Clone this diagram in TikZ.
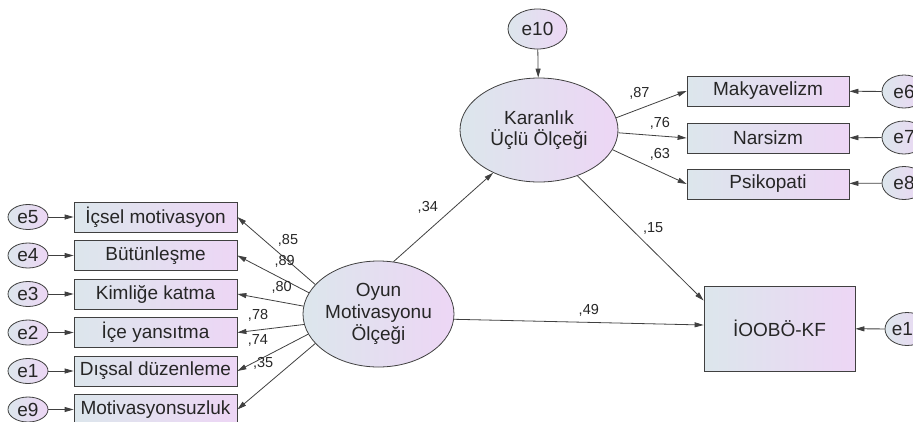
\documentclass[tikz,border=0pt]{standalone}
\usepackage{fontspec}
\setmainfont{Liberation Sans}
\usepackage{tikz}
\usetikzlibrary{positioning, arrows.meta, shapes.geometric}
\definecolor{gradL}{RGB}{220,230,236}
\definecolor{gradR}{RGB}{237,214,245}
\tikzset{
->, % every connector is directed
>={Triangle[length=9pt,width=5pt]}, % thin filled heads
every edge/.append style={draw=black!75, line width=0.8pt}, % connector lines
latent/.style={ellipse, draw=black!75, line width=0.8pt, left color=gradL, right color=gradR, inner sep=0pt, align=center, text=black!85, font=\fontsize{19}{21.7}\selectfont}, % factors
observed/.style={rectangle, draw=black!75, line width=0.8pt, left color=gradL, right color=gradR, inner sep=0pt, minimum width=163pt, minimum height=30pt, text=black!85, font=\fontsize{19}{22}\selectfont}, % measured scores
error/.style={ellipse, draw=black!75, line width=0.8pt, left color=gradL, right color=gradR, inner sep=0pt, text=black!85, font=\fontsize{19}{22}\selectfont}, % residuals
coef/.style={inner sep=1pt, text=black!85, font=\fontsize{14.5}{16}\selectfont}, % loadings
}

\begin{document}
\begin{tikzpicture}[x=1pt, y=-1pt]
\useasboundingbox (0,0) rectangle (913,421);
% latent variables
\node[latent, minimum width=151pt, minimum height=106pt] (oyun) at (378.5,314) {Oyun\\Motivasyonu\\Ölçeği};
\node[latent, minimum width=158pt, minimum height=104pt] (karanlik) at (539,130) {Karanlık\\Üçlü Ölçeği};
\node[observed, minimum width=151pt, minimum height=85pt] (iob) at (779.5,328.5) {İOOBÖ-KF};
% left indicators
\node[observed] (ic) at (155.5,217) {İçsel motivasyon};
\node[observed] (but) at (155.5,255.5) {Bütünleşme};
\node[observed] (kim) at (155.5,294) {Kimliğe katma};
\node[observed] (ice) at (155.5,332.5) {İçe yansıtma};
\node[observed] (dis) at (155.5,371) {Dışsal düzenleme};
\node[observed] (mot) at (155.5,409.5) {Motivasyonsuzluk};
\node[error, minimum width=40pt, minimum height=25pt] (e5) at (28,217) {e5};
\node[error, minimum width=40pt, minimum height=25pt] (e4) at (28,255.5) {e4};
\node[error, minimum width=40pt, minimum height=25pt] (e3) at (28,294) {e3};
\node[error, minimum width=40pt, minimum height=25pt] (e2) at (28,332.5) {e2};
\node[error, minimum width=40pt, minimum height=25pt] (e1) at (28,371) {e1};
\node[error, minimum width=40pt, minimum height=25pt] (e9) at (28,409.5) {e9};
% right indicators
\node[observed, minimum width=162pt] (mak) at (768,91) {Makyavelizm};
\node[observed, minimum width=162pt] (nar) at (768,138) {Narsizm};
\node[observed, minimum width=162pt] (psi) at (768,184) {Psikopati};
\node[error, minimum width=44pt, minimum height=33pt] (e6) at (904,91.5) {e6};
\node[error, minimum width=44pt, minimum height=33pt] (e7) at (904,137.5) {e7};
\node[error, minimum width=44pt, minimum height=33pt] (e8) at (904,183) {e8};
\node[error, minimum width=44pt, minimum height=33pt] (e11) at (907,329) {e11};
\node[error, minimum width=59pt, minimum height=40pt] (e10) at (537.5,29) {e10};

\path
(oyun.155) edge node[coef, pos=.35, above=13pt] {,85} (ic.east)
(oyun.163) edge node[coef, pos=.34, above=11pt] {,89} (but.east)
(oyun.174) edge node[coef, pos=.33, above=7pt] {,80} (kim.east)
(oyun.188) edge node[coef, pos=.69, above=7.5pt] {,78} (ice.east)
(oyun.196) edge node[coef, pos=.71, above=12.5pt] {,74} (dis.east)
(oyun.205) edge node[coef, pos=.67, above=17pt] {,35} (mot.east)
(karanlik.9) edge node[coef, pos=.33, above=8.5pt] {,87} (mak.west)
(karanlik.-2) edge node[coef, pos=.61, above=5pt] {,76} (nar.west)
(karanlik.-15) edge node[coef, pos=.64, above=10pt] {,63} (psi.west)
(oyun.74) edge node[coef, pos=.61, left=15pt] {,34} (karanlik.223)
(karanlik.310) edge node[coef, pos=.6, above=14.5pt] {,15} ([yshift=28pt]iob.west)
(oyun.-4) edge node[coef, pos=.54, above=5pt] {,49} ([yshift=3.5pt]iob.west);

\path
(e5) edge (ic)
(e4) edge (but)
(e3) edge (kim)
(e2) edge (ice)
(e1) edge (dis)
(e9) edge (mot)
(e6) edge (mak)
(e7) edge (nar)
(e8) edge (psi)
(e11) edge (iob)
(e10) edge (karanlik);
\end{tikzpicture}
\end{document}
